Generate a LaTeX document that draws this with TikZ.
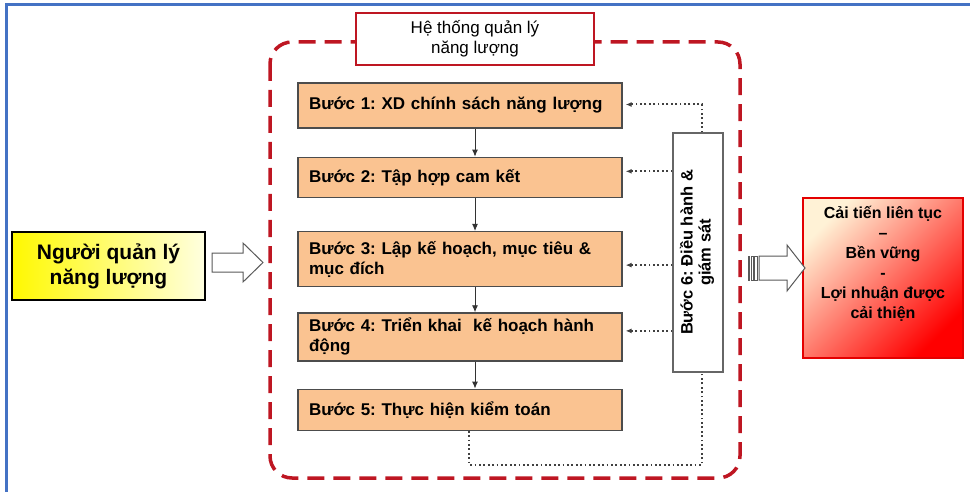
\documentclass[tikz,border=0pt]{standalone}
\usepackage{fontspec}
\setmainfont{Liberation Sans}
\usepackage{graphicx}
\usetikzlibrary{positioning,arrows.meta}
\definecolor{framered}{RGB}{190,22,34}
\definecolor{stepfill}{RGB}{250,195,145}
\definecolor{panelblue}{RGB}{68,114,196}
\definecolor{resultred}{RGB}{228,0,0}
\definecolor{cream}{RGB}{255,242,214}
\frenchspacing

\begin{document}
\begin{tikzpicture}[x=1pt, y=-1pt,
stepnode/.style={rectangle, draw=black!70, fill=stepfill, line width=1.3pt, text width=302pt, align=left, inner xsep=11pt, font=\bfseries\fontsize{17}{20}\selectfont},
monitornode/.style={rectangle, draw=black!60, fill=white, line width=1.3pt, minimum width=50pt, minimum height=239pt, inner sep=0pt, font=\bfseries\fontsize{16.5}{18}\selectfont},
titlenode/.style={rectangle, draw=framered, fill=white, line width=2.6pt, minimum width=238pt, minimum height=52pt, align=center, font=\fontsize{17}{20}\selectfont},
managernode/.style={rectangle, draw=black, line width=2.6pt, left color=yellow!95!orange, right color=yellow!12, minimum width=193pt, minimum height=68pt, align=center, font=\bfseries\fontsize{21}{25}\selectfont},
resultnode/.style={rectangle, draw=resultred, line width=2.6pt, top color=cream, middle color=orange!12, bottom color=red, shading angle=45, minimum width=160pt, minimum height=160pt},
resulttext/.style={align=center, font=\bfseries\fontsize{16}{20}\selectfont},
groupframe/.style={draw=framered, line width=3.5pt, dash pattern=on 17pt off 9pt, rounded corners=22pt},
stepflow/.style={-{Latex[length=7pt,width=6pt]}, line width=0.9pt, black!80},
feedback/.style={-{Latex[length=6pt,width=5pt]}, line width=2pt, dash pattern=on 1.8pt off 2.6pt, black!75},
feedbackline/.style={line width=2pt, dash pattern=on 1.8pt off 2.6pt, black!75},
hollowarrow/.style={draw=black!65, fill=white, line width=1pt},
]
\useasboundingbox (0,0) rectangle (970,492);
%Frame
\draw[panelblue, line width=3pt] (6,492) -- (6,5) -- (970,5);
\draw[groupframe] (270,42) rectangle (740,478);

%Nodes
\node[titlenode] (title) at (475,39) {Hệ thống quản lý\\năng lượng};
\node[stepnode, minimum height=45pt] (step1) at (460,105.5) {Bước 1: XD chính sách năng lượng};
\node[stepnode, minimum height=40pt] (step2) [below=28pt of step1] {Bước 2: Tập hợp cam kết};
\node[stepnode, minimum height=55pt] (step3) [below=33pt of step2] {Bước 3: Lập kế hoạch, mục tiêu \&\\mục đích};
\node[stepnode, minimum height=48pt] (step4) [below=25pt of step3] {Bước 4: Triển khai\ \ kế hoạch hành\\động};
\node[stepnode, minimum height=41pt] (step5) [below=27pt of step4] {Bước 5: Thực hiện kiểm toán};
\node[monitornode] (step6) at (698,252.5) {\rotatebox{90}{\begin{tabular}{@{}c@{}}Bước 6: Điều hành \&\\giám sát\end{tabular}}};
\node[managernode] (manager) at (108.5,266) {Người quản lý\\năng lượng};
\node[resultnode] (result) at (883,278) {};
\node[resulttext, anchor=north] (resultlabel) at ([yshift=-6pt]result.north) {Cải tiến liên tục\\–\\Bền vững\\-\\Lợi nhuận được\\cải thiện};

%Arrow ends
\coordinate (fb1) at ([xshift=3pt,yshift=1pt]step1.east);
\coordinate (fb2) at ([xshift=3pt,yshift=6pt]step2.east);
\coordinate (fb3) at ([xshift=3pt,yshift=-6pt]step3.east);
\coordinate (fb4) at ([xshift=3pt,yshift=6pt]step4.east);

%Lines
\draw[stepflow] ([xshift=15pt]step1.south) -- ([xshift=15pt]step2.north);
\draw[stepflow] ([xshift=15pt]step2.south) -- ([xshift=15pt]step3.north);
\draw[stepflow] ([xshift=15pt]step3.south) -- ([xshift=15pt]step4.north);
\draw[stepflow] ([xshift=15pt]step4.south) -- ([xshift=15pt]step5.north);

\draw[feedback] ([xshift=4pt]step6.north) |- (fb1);
\draw[feedback] (step6.west |- fb2) -- (fb2);
\draw[feedback] (step6.west |- fb3) -- (fb3);
\draw[feedback] (step6.west |- fb4) -- (fb4);
\draw[feedbackline] ([xshift=9pt]step5.south) -- ++(0,34) -| ([xshift=4pt]step6.south);

%Block arrows
\draw[hollowarrow] (212,253) -- (243,253) -- (243,243) -- (263,262.5) -- (243,282) -- (243,272) -- (212,272) -- cycle;
\draw[hollowarrow] (759,256) -- (787,256) -- (787,245) -- (805,268) -- (787,291) -- (787,280) -- (759,280) -- cycle;
\draw[hollowarrow, line width=0.7pt] (748,256) rectangle (749.5,280);
\draw[hollowarrow, line width=0.7pt] (751,256) rectangle (753,280);
\draw[hollowarrow, line width=0.7pt] (754.5,256) rectangle (757,280);
\end{tikzpicture}
\end{document}
